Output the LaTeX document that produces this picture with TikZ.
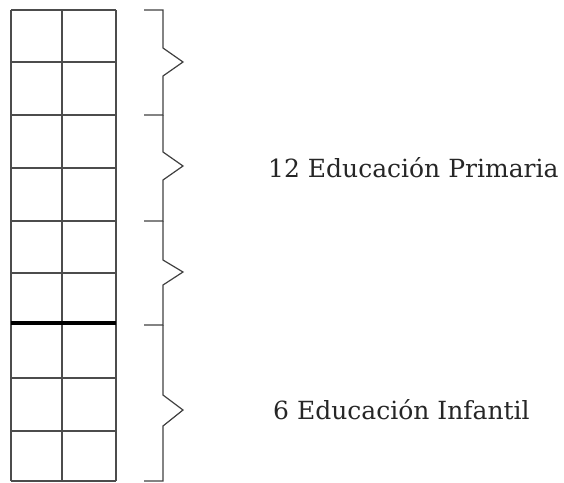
\documentclass[tikz,border=0pt]{standalone}
\usepackage{fontspec}
\setmainfont{DejaVu Serif}
\begin{document}
\begin{tikzpicture}[x=1pt,y=-1pt,
  gridline/.style={draw=black!70,line width=1.2pt},
  thickline/.style={draw=black,line width=3.5pt},
  bracket/.style={draw=black!75,line width=1.2pt,line join=miter},
  label/.style={font=\fontsize{25}{28}\selectfont,text=black!85,inner sep=0pt,anchor=west}]
\useasboundingbox (0,0) rectangle (564,482);
% grid
\foreach \y in {10,62,115,168,221,273,378,431,481} \draw[gridline] (11,\y) -- (116,\y);
\foreach \x in {11,62,116} \draw[gridline] (\x,10) -- (\x,481);
\draw[thickline] (11,323) -- (116,323);
% brackets
\draw[bracket] (144,10) -- (163,10) -- (163,48) -- (183,62) -- (163,76) -- (163,115) -- (144,115);
\draw[bracket] (163,115) -- (163,152) -- (183,166) -- (163,180) -- (163,221) -- (144,221);
\draw[bracket] (163,221) -- (163,260) -- (183,272) -- (163,285) -- (163,325) -- (144,325);
\draw[bracket] (163,325) -- (163,395) -- (183,410) -- (163,426) -- (163,481) -- (144,481);
% labels
\node[label] (prim) at (268,168) {12 Educación Primaria};
\node[label] (inf) at (273,410) {6 Educación Infantil};
\end{tikzpicture}
\end{document}
